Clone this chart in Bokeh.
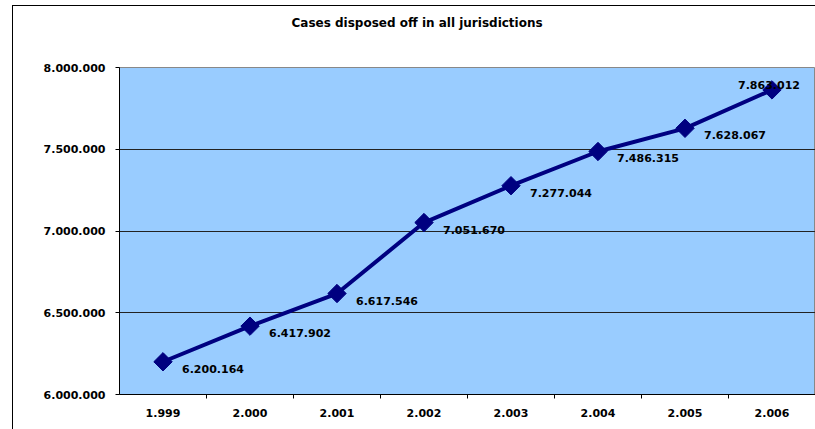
from bokeh.plotting import figure
from bokeh.models import FixedTicker, Range1d, ColumnDataSource, InlineStyleSheet, Title
from bokeh.core.properties import value
from bokeh.embed import file_html
from bokeh.resources import INLINE

title = "Cases disposed off in all jurisdictions"
years = ["1.999", "2.000", "2.001", "2.002", "2.003", "2.004", "2.005", "2.006"]
cases = [6200164, 6417902, 6617546, 7051670, 7277044, 7486315, 7628067, 7863012]
y_ticks = [6000000, 6500000, 7000000, 7500000, 8000000]


def fmt(v):
    return f"{v:,}".replace(",", ".")


FONT = "DejaVu Sans"
FS = "11px"
xs = [i + 0.5 for i in range(len(years))]
labels = [fmt(v) for v in cases]

p = figure(width=815, height=429, output_backend="svg", toolbar_location=None,
           x_range=Range1d(0, len(years)), y_range=Range1d(y_ticks[0], y_ticks[-1]),
           min_border_left=119, min_border_top=67, min_border_bottom=35, min_border_right=0,
           title=title)
p.background_fill_color = "#99CCFF"
p.border_fill_color = "white"
p.outline_line_color = "#888888"

p.title.align = "left"
p.title.offset = 172
p.title.text_font = FONT
p.title.text_font_style = "bold"
p.title.text_font_size = "12px"
p.title.text_color = "black"

# empty spacer between the title and the plot area
p.add_layout(Title(text=" ", text_font_size="19px"), "above")

# outer chart border (left and top edges visible)
p.stylesheets = [InlineStyleSheet(css="""
:host { position: relative; }
:host::after { content: ''; position: absolute; left: 12px; top: 5px;
  width: calc(100% - 12px); height: calc(100% - 5px);
  border-left: 1px solid black; border-top: 1px solid black;
  box-sizing: border-box; pointer-events: none; }
""")]

# y axis
p.yaxis.ticker = FixedTicker(ticks=y_ticks)
p.yaxis.major_label_overrides = {t: fmt(t) for t in y_ticks}
p.yaxis.axis_line_color = "black"
p.yaxis.major_tick_out = 4
p.yaxis.major_tick_in = 0
p.yaxis.minor_tick_line_color = None
p.yaxis.major_label_standoff = 10
p.yaxis.major_label_text_font = FONT
p.yaxis.major_label_text_font_style = "bold"
p.yaxis.major_label_text_font_size = FS
p.yaxis.major_label_text_color = "black"

# x axis: labels at category centres, ticks at boundaries
p.xaxis.ticker = FixedTicker(ticks=xs, minor_ticks=list(range(1, len(years))))
p.xaxis.major_label_overrides = {x: y for x, y in zip(xs, years)}
p.xaxis.axis_line_color = "black"
p.xaxis.major_tick_line_color = None
p.xaxis.minor_tick_line_color = "black"
p.xaxis.minor_tick_out = 4
p.xaxis.minor_tick_in = 0
p.xaxis.major_label_standoff = 8
p.xaxis.major_label_text_font = FONT
p.xaxis.major_label_text_font_style = "bold"
p.xaxis.major_label_text_font_size = FS
p.xaxis.major_label_text_color = "black"

p.xgrid.grid_line_color = None
p.ygrid.ticker = FixedTicker(ticks=y_ticks[1:-1])
p.ygrid.grid_line_color = "#222222"
p.ygrid.grid_line_width = 1

src = ColumnDataSource(dict(x=xs, y=cases, label=labels))
p.line("x", "y", source=src, line_color="#000080", line_width=4)
p.scatter("x", "y", source=src, marker="square", angle=0.785398, size=13,
          fill_color="#000080", line_color="#000080")

main = ColumnDataSource(dict(x=xs[:-1], y=cases[:-1], label=labels[:-1]))
last = ColumnDataSource(dict(x=xs[-1:], y=cases[-1:], label=labels[-1:]))
p.text("x", "y", text="label", source=main, x_offset=19, y_offset=7,
       text_font=value(FONT), text_font_style="bold", text_font_size=FS,
       text_baseline="middle", text_align="left", text_color="black")
p.text("x", "y", text="label", source=last, x_offset=-3, y_offset=-5,
       text_font=value(FONT), text_font_style="bold", text_font_size=FS,
       text_baseline="middle", text_align="center", text_color="black")

open("out.html", "w").write(file_html(p, INLINE))
